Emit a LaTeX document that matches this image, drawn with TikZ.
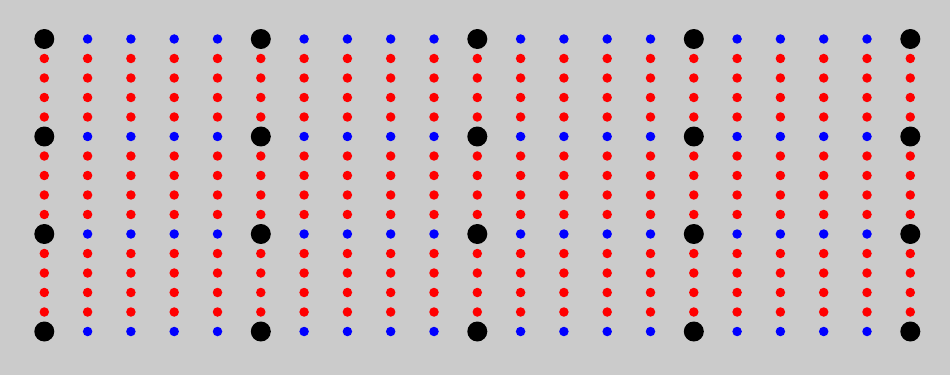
\documentclass[tikz,border=0pt]{standalone}
\usepackage{tikz}
\usetikzlibrary{calc}
\definecolor{bggray}{RGB}{203,203,203}
\tikzset{
  bigdot/.style={circle,fill=black,inner sep=0pt,minimum size=0.4cm},
  bluedot/.style={circle,fill=blue,inner sep=0pt,minimum size=0.19cm},
  reddot/.style={circle,fill=red,inner sep=0pt,minimum size=0.19cm},
}
\begin{document}
\begin{tikzpicture}[x=0.02cm,y=-0.02cm]
\fill[bggray] (0,0) rectangle (950,375);
\useasboundingbox (0,0) rectangle (950,375);
% grid of points
\foreach \i in {0,...,20}{
  \foreach \j in {0,...,15}{
    \pgfmathtruncatemacro{\ci}{mod(\i,5)}
    \pgfmathtruncatemacro{\cj}{mod(\j,5)}
    \ifnum\cj=0
      \ifnum\ci=0
        \node[bigdot] (p-\i-\j) at ({44.3+43.3*\i},{39+19.5*\j}) {};
      \else
        \node[bluedot] (p-\i-\j) at ({44.3+43.3*\i},{39+19.5*\j}) {};
      \fi
    \else
      \node[reddot] (p-\i-\j) at ({44.3+43.3*\i},{39+19.5*\j}) {};
    \fi
  }
}
\end{tikzpicture}
\end{document}
